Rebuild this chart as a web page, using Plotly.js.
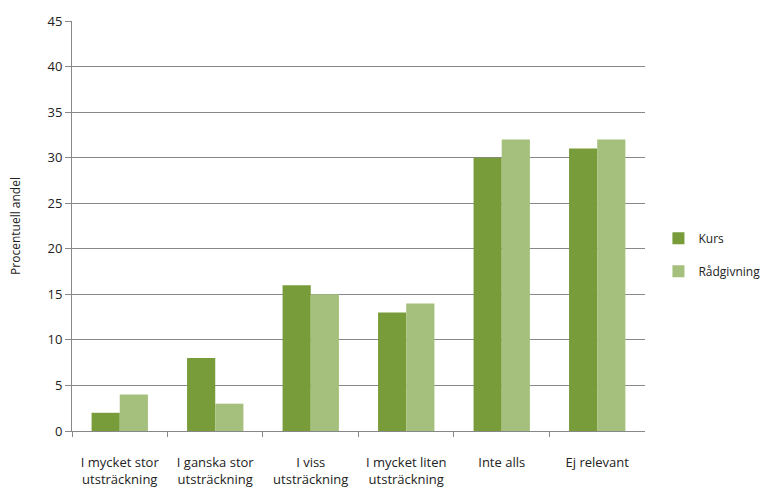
<!DOCTYPE html>
<html>
<head>
<meta charset="utf-8">
<script src="https://cdn.plot.ly/plotly-3.0.1.min.js"></script>
<style>html,body{margin:0;padding:0;background:#fff;}</style>
</head>
<body>
<div id="chart" style="width:766px;height:490px;"></div>
<script>
const categories = ["I mycket stor<br>utsträckning", "I ganska stor<br>utsträckning", "I viss<br>utsträckning", "I mycket liten<br>utsträckning", "Inte alls", "Ej relevant"];
const kurs = [2, 8, 16, 13, 30, 31];
const radgivning = [4, 3, 15, 14, 32, 32];
const yTicks = [0, 5, 10, 15, 20, 25, 30, 35, 40, 45];

const fam = "Open Sans, DejaVu Sans, sans-serif";

const data = [
  {type: "bar", name: "Kurs", x: categories, y: kurs, legendgroup: "a",
   marker: {color: "#779c39", line: {width: 0}}},
  {type: "bar", name: "Rådgivning", x: categories, y: radgivning, legendgroup: "b",
   marker: {color: "#a4c07c", line: {width: 0}}}
];

const layout = {
  width: 766, height: 490,
  margin: {l: 72, r: 0, t: 21, b: 59},
  paper_bgcolor: "#fff", plot_bgcolor: "#fff",
  font: {family: fam, size: 12, color: "#222"},
  barmode: "group", bargap: 0.41, bargroupgap: 0,
  showlegend: true,
  legend: {x: 0.845, xanchor: "left", y: 0.43, yanchor: "middle",
           tracegroupgap: 14, itemwidth: 30, font: {family: fam, size: 12, color: "#222"}},
  xaxis: {domain: [0, 0.8256], type: "category", tickmode: "array", tickvals: categories, ticktext: categories,
          showline: true, linecolor: "#888", linewidth: 1,
          ticks: "outside", tickson: "boundaries", ticklen: 5, tickcolor: "#888",
          ticklabelstandoff: 19,
          showgrid: false, tickfont: {family: fam, size: 13, color: "#222"}},
  yaxis: {range: [0, 45], tickmode: "array", tickvals: yTicks,
          showline: true, linecolor: "#888", linewidth: 1,
          ticks: "outside", ticklen: 6, tickcolor: "#888",
          showgrid: true, gridcolor: "#888", gridwidth: 1, zeroline: false,
          tickfont: {family: fam, size: 13, color: "#222"},
          title: {text: "Procentuell andel", standoff: 24, font: {family: fam, size: 12, color: "#222"}}}
};

Plotly.newPlot("chart", data, layout, {displayModeBar: false, staticPlot: true});
</script>
</body>
</html>
